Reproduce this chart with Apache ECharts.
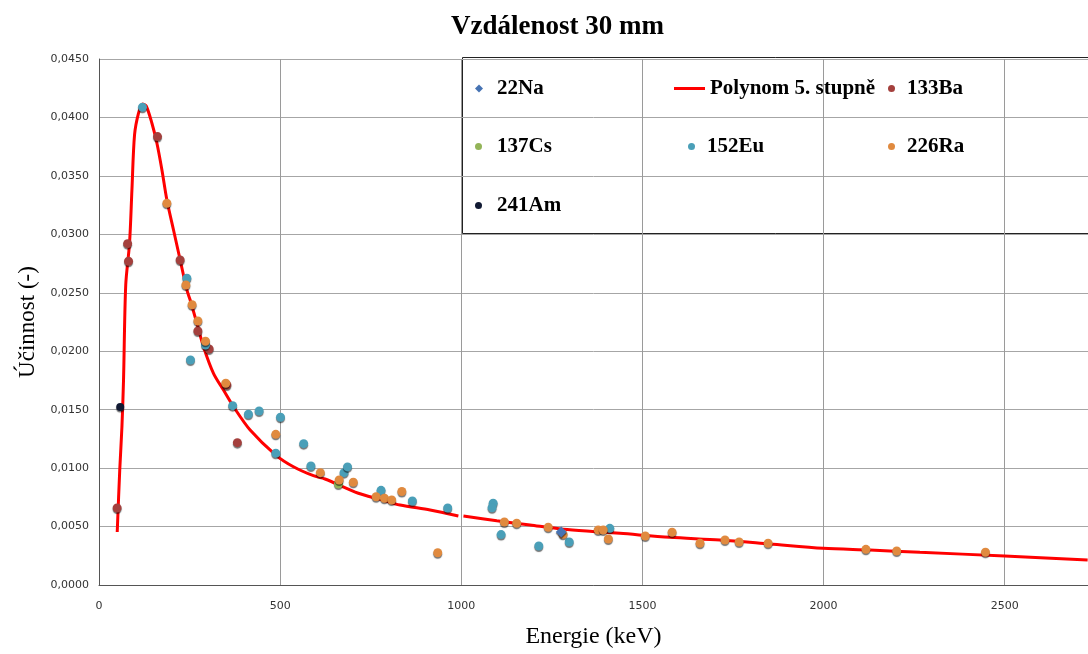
<!DOCTYPE html>
<html>
<head>
<meta charset="utf-8">
<script src="https://cdn.jsdelivr.net/npm/echarts@6/dist/echarts.min.js"></script>
<style>
html,body{margin:0;padding:0;background:#fff;}
#chart{width:1088px;height:654px;}
</style>
</head>
<body>
<div id="chart"></div>
<script>
// ---- data ----
const titleText = 'Vzdálenost 30 mm';
const xName = 'Energie (keV)';
const yName = 'Účinnost (-)';
const xMin = 0, xMax = 2730, xStep = 500;
const yMin = 0, yMax = 0.045, yStep = 0.005;

const na22 = [[1276, 0.00453]];
const ba133 = [[50, 0.00659],[79, 0.0292],[81.5, 0.0277],[161.5, 0.03836],[224, 0.0278],[273, 0.02173],[304, 0.02019],[353, 0.01711],[382, 0.01218]];
const cs137 = [[661, 0.00864]];
const eu152 = [[120, 0.04087],[242.6, 0.02624],[252.5, 0.01925],[294, 0.02053],[369, 0.01534],[412.5, 0.01461],[442, 0.01489],[488, 0.01127],[501, 0.01435],[565, 0.01209],[585, 0.01018],[676.5, 0.00961],[686, 0.0101],[778.6, 0.0081],[865, 0.00719],[962.6, 0.00659],[1088, 0.00699],[1085, 0.00661],[1110, 0.00431],[1214, 0.00334],[1298, 0.00368],[1410, 0.00485]];
const ra226 = [[187.4, 0.03266],[239.9, 0.02567],[257, 0.02398],[273, 0.02259],[294, 0.02085],[350, 0.01726],[488, 0.01289],[611, 0.00961],[663, 0.00898],[702, 0.00879],[765, 0.00755],[788, 0.00742],[808, 0.00727],[836, 0.008],[935, 0.00276],[1119, 0.00539],[1153, 0.00528],[1240, 0.00494],[1281, 0.00434],[1378, 0.00471],[1392, 0.00471],[1406, 0.00394],[1508, 0.00419],[1582, 0.00451],[1659, 0.00357],[1728, 0.00385],[1767, 0.00368],[1847, 0.00357],[2117, 0.00305],[2202, 0.00291],[2447, 0.0028]];
const am241 = [[58.6, 0.01523]];
// polynomial fit curve (two pieces, broken at 1000 keV)
const polyLow = [[50.3, 0.00453],[57.2, 0.0098],[63.3, 0.01354],[67.7, 0.01754],[73.8, 0.02567],[84.3, 0.02924],[90.9, 0.0338],[98.1, 0.0385],[109.1, 0.04036],[120.1, 0.04115],[130.3, 0.04098],[146.1, 0.0395],[159.9, 0.03779],[173.7, 0.03551],[187.4, 0.03294],[205.7, 0.03037],[224.1, 0.0278],[242.6, 0.02524],[251.7, 0.02438],[270.2, 0.02239],[288.4, 0.02039],[316, 0.01811],[343.6, 0.01668],[371.2, 0.01526],[417.2, 0.01326],[488, 0.01112],[536.7, 0.01012],[591.9, 0.00935],[624, 0.00907],[716, 0.00785],[776, 0.00733],[831, 0.00684],[914, 0.00642],[992, 0.0059]];
const polyHigh = [[1006, 0.0059],[1098, 0.0055],[1190, 0.00513],[1281, 0.00477],[1374, 0.00456],[1438, 0.00442],[1576, 0.00408],[1714, 0.00385],[1852, 0.00351],[1999, 0.00314],[2128, 0.00299],[2266, 0.0028],[2500, 0.00248],[2729, 0.00214]];

const colors = {na:'#4673b3', poly:'#ff0000', ba:'#a4403d', cs:'#93b458', eu:'#4a9fb8', ra:'#e08a3f', am:'#111a33'};

const polyData = polyLow.concat([[1000, '-']], polyHigh);

const chart = echarts.init(document.getElementById('chart'));
const shadow = {shadowColor:'rgba(0,0,0,0.55)', shadowBlur:1, shadowOffsetY:1.5};
function scatter(name, data, color, symbol, size){
  return {name, type:'scatter', data, symbol, symbolSize:size, z:3,
    itemStyle:Object.assign({color, opacity:1}, shadow)};
}
const legendFont = {fontFamily:'Liberation Serif', fontWeight:'bold', fontSize:21, color:'#000', lineHeight:20};
function leg(name, left, rowCenter, w, h, padL, icon){
  const item = icon ? {name, icon} : {name};
  return {data:[item], left, top:rowCenter-10, padding:0, itemWidth:w, itemHeight:h, selectedMode:false,
    itemStyle:{shadowColor:'transparent', shadowBlur:0, shadowOffsetY:0, opacity:1},
    textStyle:Object.assign({padding:[0,0,0,padL]}, legendFont)};
}
const row1 = 88, row2 = 146, row3 = 205;

chart.setOption({
  animation:false,
  backgroundColor:'#fff',
  title:{text:titleText, left:451, top:14, padding:0,
    textStyle:{fontFamily:'Liberation Serif', fontWeight:'bold', fontSize:27, color:'#000'}},
  graphic:[{type:'rect', shape:{x:462.5, y:57.5, width:640, height:176}, z:-1,
    style:{fill:'#fff', stroke:'#222', lineWidth:1}}],
  legend:[
    leg('22Na', 475, row1, 8, 8, 9, 'diamond'),
    leg('Polynom 5. stupně', 674, row1, 31, 3, 0, 'rect'),
    leg('133Ba', 888, row1, 7, 7, 7, 'circle'),
    leg('137Cs', 475, row2, 7, 7, 10, 'circle'),
    leg('152Eu', 688, row2, 7, 7, 7, 'circle'),
    leg('226Ra', 888, row2, 7, 7, 7, 'circle'),
    leg('241Am', 475, row3, 7, 7, 10, 'circle')
  ],
  grid:{left:99, right:0, top:59, bottom:69, containLabel:false, outerBoundsMode:'none'},
  xAxis:{type:'value', min:xMin, max:xMax, interval:xStep,
    name:xName, nameLocation:'middle', nameGap:40,
    nameTextStyle:{fontFamily:'Liberation Serif', fontSize:24, color:'#000'},
    axisLine:{show:true, lineStyle:{color:'#555', width:1}},
    axisTick:{show:false},
    axisLabel:{showMaxLabel:false, margin:16, fontFamily:'DejaVu Sans', fontSize:11, color:'#333',
      formatter:v=>String(v)},
    splitLine:{show:true, lineStyle:{color:'#9a9a9a', width:1}}},
  yAxis:{type:'value', min:yMin, max:yMax, interval:yStep,
    name:yName, nameLocation:'middle', nameGap:60, nameRotate:90,
    nameTextStyle:{fontFamily:'Liberation Serif', fontSize:23, color:'#000'},
    axisLine:{show:true, lineStyle:{color:'#555', width:1}},
    axisTick:{show:false},
    axisLabel:{margin:10, fontFamily:'DejaVu Sans', fontSize:11, color:'#333',
      formatter:v=>v.toFixed(4).replace('.', ',')},
    splitLine:{show:true, lineStyle:{color:'#a6a6a6', width:1}}},
  series:[
    Object.assign(scatter('22Na', na22, colors.na, 'diamond', 11), {z:4}),
    {name:'Polynom 5. stupně', type:'line', data:polyData, symbol:'none', smooth:0.3, connectNulls:false, z:2,
      lineStyle:{color:colors.poly, width:3}, itemStyle:{color:colors.poly}},
    scatter('133Ba', ba133, colors.ba, 'circle', 9),
    scatter('137Cs', cs137, colors.cs, 'circle', 9),
    scatter('152Eu', eu152, colors.eu, 'circle', 9),
    scatter('226Ra', ra226, colors.ra, 'circle', 9),
    scatter('241Am', am241, colors.am, 'circle', 8)
  ]
});
</script>
</body>
</html>
